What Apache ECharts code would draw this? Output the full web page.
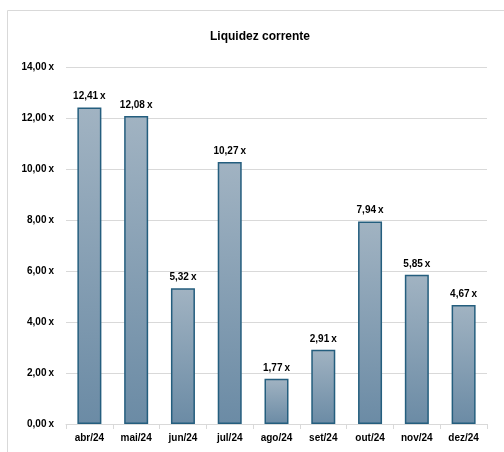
<!DOCTYPE html>
<html>
<head>
<meta charset="utf-8">
<script src="https://cdn.jsdelivr.net/npm/echarts@6/dist/echarts.min.js"></script>
<style>
  html, body { margin: 0; padding: 0; background: #fff; }
  #main { width: 504px; height: 452px; }
</style>
</head>
<body>
<div id="main"></div>
<script>
// dados do gráfico
var meses = ["abr/24", "mai/24", "jun/24", "jul/24", "ago/24", "set/24", "out/24", "nov/24", "dez/24"];
var liquidez = [12.41, 12.08, 5.32, 10.27, 1.77, 2.91, 7.94, 5.85, 4.67];

function fmt(v) {
  return v.toFixed(2).replace(".", ",") + "\u2009x";
}

var chart = echarts.init(document.getElementById("main"));
chart.setOption({
  animation: false,
  textStyle: { fontFamily: "Liberation Sans, Arial, sans-serif" },
  graphic: [{
    type: "rect",
    shape: { x: 7.5, y: 10.5, width: 520, height: 460 },
    style: { fill: "none", stroke: "#d9d9d9", lineWidth: 1 }
  }],
  title: {
    text: "Liquidez corrente",
    left: 255,
    top: 26,
    textAlign: "center",
    textStyle: { fontSize: 12, fontWeight: "bold", color: "#000" }
  },
  grid: { left: 66, right: 17, top: 67, bottom: 28 },
  xAxis: {
    type: "category",
    data: meses,
    axisLine: { lineStyle: { color: "#d9d9d9" } },
    axisTick: { show: true, length: 5, lineStyle: { color: "#d9d9d9" } },
    axisLabel: { color: "#000", fontSize: 10, fontWeight: "bold", margin: 9 }
  },
  yAxis: {
    type: "value",
    min: 0,
    max: 14,
    interval: 2,
    axisLine: { show: false },
    axisTick: { show: false },
    splitLine: { lineStyle: { color: "#d9d9d9" } },
    axisLabel: {
      color: "#000", fontSize: 10, fontWeight: "bold", margin: 12,
      formatter: function (v) { return fmt(v); }
    }
  },
  series: [{
    type: "bar",
    data: liquidez,
    barWidth: 24,
    itemStyle: {
      color: new echarts.graphic.LinearGradient(0, 0, 0, 1, [
        { offset: 0, color: "#a1b3c2" },
        { offset: 1, color: "#6b8ba5" }
      ]),
      borderColor: "#245e7e",
      borderWidth: 1.5
    },
    label: {
      show: true,
      position: "top",
      distance: 6,
      color: "#000",
      fontSize: 10,
      fontWeight: "bold",
      formatter: function (p) { return fmt(p.value); }
    }
  }]
});
</script>
</body>
</html>
